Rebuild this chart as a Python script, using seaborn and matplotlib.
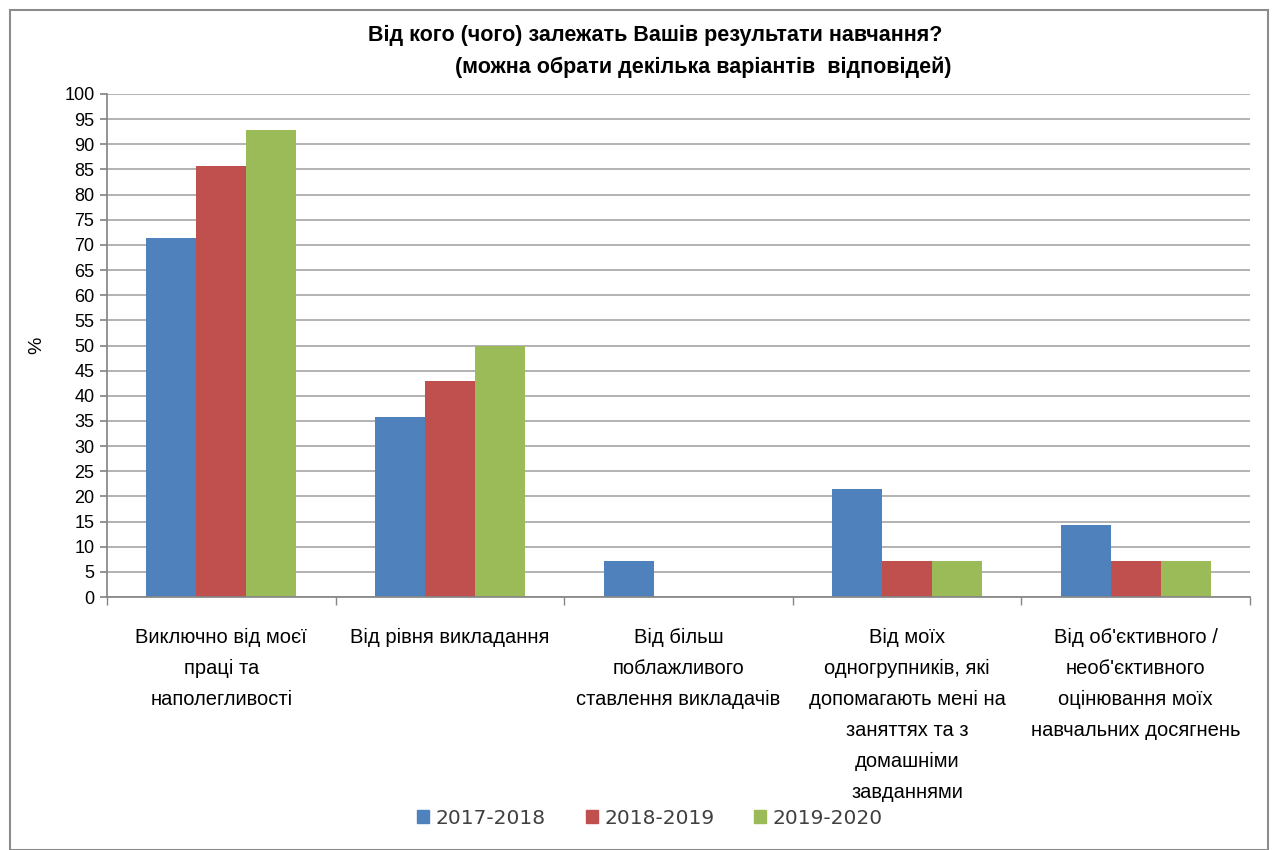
import pandas as pd
import matplotlib.pyplot as plt
import seaborn as sns
from matplotlib.patches import Rectangle

# Дані
categories = [
    "Виключно від моєї\nпраці та\nнаполегливості",
    "Від рівня викладання",
    "Від більш\nпоблажливого\nставлення викладачів",
    "Від моїх\nодногрупників, які\nдопомагають мені на\nзаняттях та з\nдомашніми\nзавданнями",
    "Від об'єктивного /\nнеоб'єктивного\nоцінювання моїх\nнавчальних досягнень",
]
years = ["2017-2018", "2018-2019", "2019-2020"]
v_2017 = [71.4, 35.7, 7.1, 21.4, 14.3]
v_2018 = [85.7, 42.9, 0.0, 7.1, 7.1]
v_2019 = [92.9, 50.0, 0.0, 7.1, 7.1]
colors = ["#4F81BD", "#C0504D", "#9BBB59"]

df = pd.DataFrame({
    "cat": categories * 3,
    "year": [years[0]] * 5 + [years[1]] * 5 + [years[2]] * 5,
    "val": v_2017 + v_2018 + v_2019,
})

sns.set_theme(style="white")
plt.rcParams['font.family'] = ['Liberation Sans', 'DejaVu Sans']
plt.rcParams['text.color'] = 'black'

fig = plt.figure(figsize=(12.76, 8.5), dpi=100)
ax = fig.add_axes([107 / 1276, 1 - 597 / 850, (1250 - 107) / 1276, (597 - 94) / 850])

sns.barplot(data=df, x="cat", y="val", hue="year", palette=colors,
            width=0.655, gap=0, ax=ax, legend=False, saturation=1, linewidth=0)

ax.set_xlim(-0.5, 4.5)
ax.set_ylim(0, 100)
ax.set_yticks(range(0, 101, 5))
ax.yaxis.grid(True, color="#A6A6A6", linewidth=1.2)
ax.set_axisbelow(True)
for s in ["top", "right"]:
    ax.spines[s].set_visible(False)
ax.spines["left"].set_color("#868686")
ax.spines["bottom"].set_color("#868686")
ax.tick_params(axis="y", which="major", left=True, length=5, color="#868686",
               labelsize=13, labelcolor="black", pad=4)

# підписи категорій
ax.set_xticks(range(5))
ax.set_xticklabels(categories, fontsize=14.5, linespacing=1.8, color="black")
ax.tick_params(axis="x", which="major", length=0, pad=22)
ax.set_xticks([-0.5, 0.5, 1.5, 2.5, 3.5, 4.5], minor=True)
ax.tick_params(axis="x", which="minor", bottom=True, length=6, color="#868686")

ax.set_xlabel("")
ax.set_ylabel("%", fontsize=14, labelpad=14, color="black")

# заголовок
fig.text(655 / 1276, 1 - 35 / 850, "Від кого (чого) залежать Вашів результати навчання?",
         ha="center", va="center", fontsize=15.5, fontweight="bold", color="black")
fig.text(703 / 1276, 1 - 67 / 850, "(можна обрати декілька варіантів  відповідей)",
         ha="center", va="center", fontsize=15.5, fontweight="bold", color="black")

# легенда
handles = [Rectangle((0, 0), 1, 1, color=c) for c in colors]
leg = fig.legend(handles, years, loc="center", bbox_to_anchor=(650 / 1276, 1 - 818 / 850),
                 ncol=3, frameon=False, handlelength=0.6, handleheight=0.6,
                 handletextpad=0.3, columnspacing=2.0,
                 prop={'family': ['DejaVu Sans'], 'size': 14.5})
for t in leg.get_texts():
    t.set_color("#404040")

# рамка діаграми
fig.patches.append(Rectangle((10 / 1276, 0.0), 1258 / 1276, 1 - 10 / 850,
                             transform=fig.transFigure, fill=False,
                             edgecolor="#8C8C8C", linewidth=1.5))

fig.savefig("out.png", dpi=100, facecolor="white")
